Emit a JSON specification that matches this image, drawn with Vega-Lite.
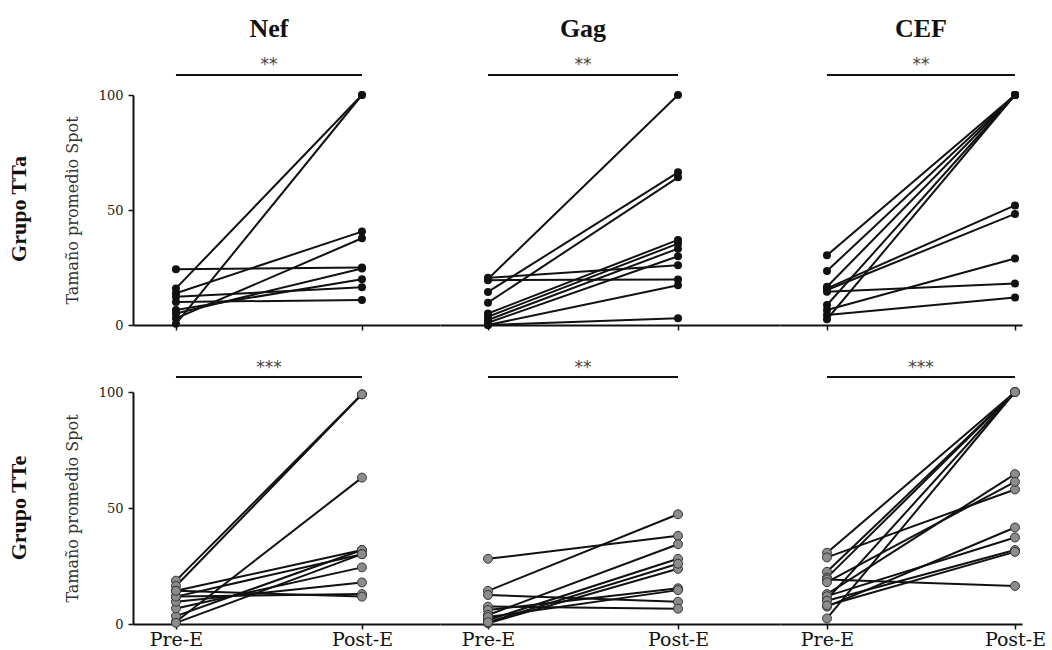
{
  "$schema": "https://vega.github.io/schema/vega-lite/v6.json",
  "background": "white",
  "padding": {"left": 8, "top": 15, "right": 0, "bottom": 0},
  "config": {
    "font": "DejaVu Serif",
    "view": {"stroke": null},
    "axis": {"domainColor": "#111", "domainWidth": 2, "tickColor": "#111", "tickWidth": 1.5, "tickSize": 5, "grid": false, "labelFont": "DejaVu Serif", "labelColor": "#222"},
    "concat": {"spacing": 0}
  },
  "datasets": {
    "significancia": [
      {"grupo": "TTa", "antigeno": "Nef", "tiempo": "Pre-E", "p": "**"}, {"grupo": "TTa", "antigeno": "Nef", "tiempo": "Post-E", "p": "**"},
      {"grupo": "TTa", "antigeno": "Gag", "tiempo": "Pre-E", "p": "**"}, {"grupo": "TTa", "antigeno": "Gag", "tiempo": "Post-E", "p": "**"},
      {"grupo": "TTa", "antigeno": "CEF", "tiempo": "Pre-E", "p": "**"}, {"grupo": "TTa", "antigeno": "CEF", "tiempo": "Post-E", "p": "**"},
      {"grupo": "TTe", "antigeno": "Nef", "tiempo": "Pre-E", "p": "***"}, {"grupo": "TTe", "antigeno": "Nef", "tiempo": "Post-E", "p": "***"},
      {"grupo": "TTe", "antigeno": "Gag", "tiempo": "Pre-E", "p": "**"}, {"grupo": "TTe", "antigeno": "Gag", "tiempo": "Post-E", "p": "**"},
      {"grupo": "TTe", "antigeno": "CEF", "tiempo": "Pre-E", "p": "***"}, {"grupo": "TTe", "antigeno": "CEF", "tiempo": "Post-E", "p": "***"}
    ],
    "spots": [
      {"grupo": "TTa", "antigeno": "Nef", "sujeto": "1", "tiempo": "Pre-E", "valor": 24.2}, {"grupo": "TTa", "antigeno": "Nef", "sujeto": "1", "tiempo": "Post-E", "valor": 25},
      {"grupo": "TTa", "antigeno": "Nef", "sujeto": "2", "tiempo": "Pre-E", "valor": 15.9}, {"grupo": "TTa", "antigeno": "Nef", "sujeto": "2", "tiempo": "Post-E", "valor": 100},
      {"grupo": "TTa", "antigeno": "Nef", "sujeto": "3", "tiempo": "Pre-E", "valor": 0.5}, {"grupo": "TTa", "antigeno": "Nef", "sujeto": "3", "tiempo": "Post-E", "valor": 100},
      {"grupo": "TTa", "antigeno": "Nef", "sujeto": "4", "tiempo": "Pre-E", "valor": 13.8}, {"grupo": "TTa", "antigeno": "Nef", "sujeto": "4", "tiempo": "Post-E", "valor": 40.6},
      {"grupo": "TTa", "antigeno": "Nef", "sujeto": "5", "tiempo": "Pre-E", "valor": 2.9}, {"grupo": "TTa", "antigeno": "Nef", "sujeto": "5", "tiempo": "Post-E", "valor": 37.7},
      {"grupo": "TTa", "antigeno": "Nef", "sujeto": "6", "tiempo": "Pre-E", "valor": 5}, {"grupo": "TTa", "antigeno": "Nef", "sujeto": "6", "tiempo": "Post-E", "valor": 24.6},
      {"grupo": "TTa", "antigeno": "Nef", "sujeto": "7", "tiempo": "Pre-E", "valor": 6.5}, {"grupo": "TTa", "antigeno": "Nef", "sujeto": "7", "tiempo": "Post-E", "valor": 19.9},
      {"grupo": "TTa", "antigeno": "Nef", "sujeto": "8", "tiempo": "Pre-E", "valor": 12.3}, {"grupo": "TTa", "antigeno": "Nef", "sujeto": "8", "tiempo": "Post-E", "valor": 16.4},
      {"grupo": "TTa", "antigeno": "Nef", "sujeto": "9", "tiempo": "Pre-E", "valor": 10}, {"grupo": "TTa", "antigeno": "Nef", "sujeto": "9", "tiempo": "Post-E", "valor": 10.9},

      {"grupo": "TTa", "antigeno": "Gag", "sujeto": "1", "tiempo": "Pre-E", "valor": 20}, {"grupo": "TTa", "antigeno": "Gag", "sujeto": "1", "tiempo": "Post-E", "valor": 100},
      {"grupo": "TTa", "antigeno": "Gag", "sujeto": "2", "tiempo": "Pre-E", "valor": 19.5}, {"grupo": "TTa", "antigeno": "Gag", "sujeto": "2", "tiempo": "Post-E", "valor": 19.8},
      {"grupo": "TTa", "antigeno": "Gag", "sujeto": "3", "tiempo": "Pre-E", "valor": 20.5}, {"grupo": "TTa", "antigeno": "Gag", "sujeto": "3", "tiempo": "Post-E", "valor": 26},
      {"grupo": "TTa", "antigeno": "Gag", "sujeto": "4", "tiempo": "Pre-E", "valor": 14.4}, {"grupo": "TTa", "antigeno": "Gag", "sujeto": "4", "tiempo": "Post-E", "valor": 66.4},
      {"grupo": "TTa", "antigeno": "Gag", "sujeto": "5", "tiempo": "Pre-E", "valor": 9.7}, {"grupo": "TTa", "antigeno": "Gag", "sujeto": "5", "tiempo": "Post-E", "valor": 64.2},
      {"grupo": "TTa", "antigeno": "Gag", "sujeto": "6", "tiempo": "Pre-E", "valor": 5}, {"grupo": "TTa", "antigeno": "Gag", "sujeto": "6", "tiempo": "Post-E", "valor": 37},
      {"grupo": "TTa", "antigeno": "Gag", "sujeto": "7", "tiempo": "Pre-E", "valor": 3.6}, {"grupo": "TTa", "antigeno": "Gag", "sujeto": "7", "tiempo": "Post-E", "valor": 35.4},
      {"grupo": "TTa", "antigeno": "Gag", "sujeto": "8", "tiempo": "Pre-E", "valor": 2.2}, {"grupo": "TTa", "antigeno": "Gag", "sujeto": "8", "tiempo": "Post-E", "valor": 33.2},
      {"grupo": "TTa", "antigeno": "Gag", "sujeto": "9", "tiempo": "Pre-E", "valor": 1}, {"grupo": "TTa", "antigeno": "Gag", "sujeto": "9", "tiempo": "Post-E", "valor": 29.9},
      {"grupo": "TTa", "antigeno": "Gag", "sujeto": "10", "tiempo": "Pre-E", "valor": 0}, {"grupo": "TTa", "antigeno": "Gag", "sujeto": "10", "tiempo": "Post-E", "valor": 17.3},
      {"grupo": "TTa", "antigeno": "Gag", "sujeto": "11", "tiempo": "Pre-E", "valor": 0}, {"grupo": "TTa", "antigeno": "Gag", "sujeto": "11", "tiempo": "Post-E", "valor": 2.9},

      {"grupo": "TTa", "antigeno": "CEF", "sujeto": "1", "tiempo": "Pre-E", "valor": 30.3}, {"grupo": "TTa", "antigeno": "CEF", "sujeto": "1", "tiempo": "Post-E", "valor": 100},
      {"grupo": "TTa", "antigeno": "CEF", "sujeto": "2", "tiempo": "Pre-E", "valor": 23.5}, {"grupo": "TTa", "antigeno": "CEF", "sujeto": "2", "tiempo": "Post-E", "valor": 100},
      {"grupo": "TTa", "antigeno": "CEF", "sujeto": "3", "tiempo": "Pre-E", "valor": 16.6}, {"grupo": "TTa", "antigeno": "CEF", "sujeto": "3", "tiempo": "Post-E", "valor": 100},
      {"grupo": "TTa", "antigeno": "CEF", "sujeto": "4", "tiempo": "Pre-E", "valor": 15.9}, {"grupo": "TTa", "antigeno": "CEF", "sujeto": "4", "tiempo": "Post-E", "valor": 52},
      {"grupo": "TTa", "antigeno": "CEF", "sujeto": "5", "tiempo": "Pre-E", "valor": 15.2}, {"grupo": "TTa", "antigeno": "CEF", "sujeto": "5", "tiempo": "Post-E", "valor": 48.3},
      {"grupo": "TTa", "antigeno": "CEF", "sujeto": "6", "tiempo": "Pre-E", "valor": 14.5}, {"grupo": "TTa", "antigeno": "CEF", "sujeto": "6", "tiempo": "Post-E", "valor": 18},
      {"grupo": "TTa", "antigeno": "CEF", "sujeto": "7", "tiempo": "Pre-E", "valor": 8.7}, {"grupo": "TTa", "antigeno": "CEF", "sujeto": "7", "tiempo": "Post-E", "valor": 100},
      {"grupo": "TTa", "antigeno": "CEF", "sujeto": "8", "tiempo": "Pre-E", "valor": 6.5}, {"grupo": "TTa", "antigeno": "CEF", "sujeto": "8", "tiempo": "Post-E", "valor": 28.9},
      {"grupo": "TTa", "antigeno": "CEF", "sujeto": "9", "tiempo": "Pre-E", "valor": 4.3}, {"grupo": "TTa", "antigeno": "CEF", "sujeto": "9", "tiempo": "Post-E", "valor": 12},
      {"grupo": "TTa", "antigeno": "CEF", "sujeto": "10", "tiempo": "Pre-E", "valor": 2.5}, {"grupo": "TTa", "antigeno": "CEF", "sujeto": "10", "tiempo": "Post-E", "valor": 100},

      {"grupo": "TTe", "antigeno": "Nef", "sujeto": "1", "tiempo": "Pre-E", "valor": 18.7}, {"grupo": "TTe", "antigeno": "Nef", "sujeto": "1", "tiempo": "Post-E", "valor": 99},
      {"grupo": "TTe", "antigeno": "Nef", "sujeto": "2", "tiempo": "Pre-E", "valor": 16.4}, {"grupo": "TTe", "antigeno": "Nef", "sujeto": "2", "tiempo": "Post-E", "valor": 99},
      {"grupo": "TTe", "antigeno": "Nef", "sujeto": "3", "tiempo": "Pre-E", "valor": 1}, {"grupo": "TTe", "antigeno": "Nef", "sujeto": "3", "tiempo": "Post-E", "valor": 63.1},
      {"grupo": "TTe", "antigeno": "Nef", "sujeto": "4", "tiempo": "Pre-E", "valor": 14.3}, {"grupo": "TTe", "antigeno": "Nef", "sujeto": "4", "tiempo": "Post-E", "valor": 31.9},
      {"grupo": "TTe", "antigeno": "Nef", "sujeto": "5", "tiempo": "Pre-E", "valor": 3.4}, {"grupo": "TTe", "antigeno": "Nef", "sujeto": "5", "tiempo": "Post-E", "valor": 31.9},
      {"grupo": "TTe", "antigeno": "Nef", "sujeto": "6", "tiempo": "Pre-E", "valor": 0.5}, {"grupo": "TTe", "antigeno": "Nef", "sujeto": "6", "tiempo": "Post-E", "valor": 30.1},
      {"grupo": "TTe", "antigeno": "Nef", "sujeto": "7", "tiempo": "Pre-E", "valor": 11.8}, {"grupo": "TTe", "antigeno": "Nef", "sujeto": "7", "tiempo": "Post-E", "valor": 30.1},
      {"grupo": "TTe", "antigeno": "Nef", "sujeto": "8", "tiempo": "Pre-E", "valor": 6.7}, {"grupo": "TTe", "antigeno": "Nef", "sujeto": "8", "tiempo": "Post-E", "valor": 24.4},
      {"grupo": "TTe", "antigeno": "Nef", "sujeto": "9", "tiempo": "Pre-E", "valor": 9.6}, {"grupo": "TTe", "antigeno": "Nef", "sujeto": "9", "tiempo": "Post-E", "valor": 17.9},
      {"grupo": "TTe", "antigeno": "Nef", "sujeto": "10", "tiempo": "Pre-E", "valor": 11.8}, {"grupo": "TTe", "antigeno": "Nef", "sujeto": "10", "tiempo": "Post-E", "valor": 12.9},
      {"grupo": "TTe", "antigeno": "Nef", "sujeto": "11", "tiempo": "Pre-E", "valor": 14.3}, {"grupo": "TTe", "antigeno": "Nef", "sujeto": "11", "tiempo": "Post-E", "valor": 11.8},

      {"grupo": "TTe", "antigeno": "Gag", "sujeto": "1", "tiempo": "Pre-E", "valor": 28.1}, {"grupo": "TTe", "antigeno": "Gag", "sujeto": "1", "tiempo": "Post-E", "valor": 38},
      {"grupo": "TTe", "antigeno": "Gag", "sujeto": "2", "tiempo": "Pre-E", "valor": 14.3}, {"grupo": "TTe", "antigeno": "Gag", "sujeto": "2", "tiempo": "Post-E", "valor": 47.3},
      {"grupo": "TTe", "antigeno": "Gag", "sujeto": "3", "tiempo": "Pre-E", "valor": 12.5}, {"grupo": "TTe", "antigeno": "Gag", "sujeto": "3", "tiempo": "Post-E", "valor": 9.6},
      {"grupo": "TTe", "antigeno": "Gag", "sujeto": "4", "tiempo": "Pre-E", "valor": 7.5}, {"grupo": "TTe", "antigeno": "Gag", "sujeto": "4", "tiempo": "Post-E", "valor": 6.6},
      {"grupo": "TTe", "antigeno": "Gag", "sujeto": "5", "tiempo": "Pre-E", "valor": 6}, {"grupo": "TTe", "antigeno": "Gag", "sujeto": "5", "tiempo": "Post-E", "valor": 15.4},
      {"grupo": "TTe", "antigeno": "Gag", "sujeto": "6", "tiempo": "Pre-E", "valor": 3.9}, {"grupo": "TTe", "antigeno": "Gag", "sujeto": "6", "tiempo": "Post-E", "valor": 34.4},
      {"grupo": "TTe", "antigeno": "Gag", "sujeto": "7", "tiempo": "Pre-E", "valor": 1.7}, {"grupo": "TTe", "antigeno": "Gag", "sujeto": "7", "tiempo": "Post-E", "valor": 28.1},
      {"grupo": "TTe", "antigeno": "Gag", "sujeto": "8", "tiempo": "Pre-E", "valor": 0.3}, {"grupo": "TTe", "antigeno": "Gag", "sujeto": "8", "tiempo": "Post-E", "valor": 23.8},
      {"grupo": "TTe", "antigeno": "Gag", "sujeto": "9", "tiempo": "Pre-E", "valor": 3}, {"grupo": "TTe", "antigeno": "Gag", "sujeto": "9", "tiempo": "Post-E", "valor": 14.6},
      {"grupo": "TTe", "antigeno": "Gag", "sujeto": "10", "tiempo": "Pre-E", "valor": 0.8}, {"grupo": "TTe", "antigeno": "Gag", "sujeto": "10", "tiempo": "Post-E", "valor": 26},

      {"grupo": "TTe", "antigeno": "CEF", "sujeto": "1", "tiempo": "Pre-E", "valor": 30.7}, {"grupo": "TTe", "antigeno": "CEF", "sujeto": "1", "tiempo": "Post-E", "valor": 100},
      {"grupo": "TTe", "antigeno": "CEF", "sujeto": "2", "tiempo": "Pre-E", "valor": 28.7}, {"grupo": "TTe", "antigeno": "CEF", "sujeto": "2", "tiempo": "Post-E", "valor": 58},
      {"grupo": "TTe", "antigeno": "CEF", "sujeto": "3", "tiempo": "Pre-E", "valor": 22.5}, {"grupo": "TTe", "antigeno": "CEF", "sujeto": "3", "tiempo": "Post-E", "valor": 100},
      {"grupo": "TTe", "antigeno": "CEF", "sujeto": "4", "tiempo": "Pre-E", "valor": 20}, {"grupo": "TTe", "antigeno": "CEF", "sujeto": "4", "tiempo": "Post-E", "valor": 100},
      {"grupo": "TTe", "antigeno": "CEF", "sujeto": "5", "tiempo": "Pre-E", "valor": 19.2}, {"grupo": "TTe", "antigeno": "CEF", "sujeto": "5", "tiempo": "Post-E", "valor": 16.4},
      {"grupo": "TTe", "antigeno": "CEF", "sujeto": "6", "tiempo": "Pre-E", "valor": 12.9}, {"grupo": "TTe", "antigeno": "CEF", "sujeto": "6", "tiempo": "Post-E", "valor": 64.6},
      {"grupo": "TTe", "antigeno": "CEF", "sujeto": "7", "tiempo": "Pre-E", "valor": 10.6}, {"grupo": "TTe", "antigeno": "CEF", "sujeto": "7", "tiempo": "Post-E", "valor": 100},
      {"grupo": "TTe", "antigeno": "CEF", "sujeto": "8", "tiempo": "Pre-E", "valor": 2.4}, {"grupo": "TTe", "antigeno": "CEF", "sujeto": "8", "tiempo": "Post-E", "valor": 100},
      {"grupo": "TTe", "antigeno": "CEF", "sujeto": "9", "tiempo": "Pre-E", "valor": 18}, {"grupo": "TTe", "antigeno": "CEF", "sujeto": "9", "tiempo": "Post-E", "valor": 61.3},
      {"grupo": "TTe", "antigeno": "CEF", "sujeto": "10", "tiempo": "Pre-E", "valor": 7.5}, {"grupo": "TTe", "antigeno": "CEF", "sujeto": "10", "tiempo": "Post-E", "valor": 41.6},
      {"grupo": "TTe", "antigeno": "CEF", "sujeto": "11", "tiempo": "Pre-E", "valor": 12}, {"grupo": "TTe", "antigeno": "CEF", "sujeto": "11", "tiempo": "Post-E", "valor": 37.3},
      {"grupo": "TTe", "antigeno": "CEF", "sujeto": "12", "tiempo": "Pre-E", "valor": 10}, {"grupo": "TTe", "antigeno": "CEF", "sujeto": "12", "tiempo": "Post-E", "valor": 31.9},
      {"grupo": "TTe", "antigeno": "CEF", "sujeto": "13", "tiempo": "Pre-E", "valor": 8}, {"grupo": "TTe", "antigeno": "CEF", "sujeto": "13", "tiempo": "Post-E", "valor": 31.1}
    ]
  },
  "vconcat": [
    {
      "title": {"text": "Grupo TTa", "orient": "left", "anchor": "middle", "font": "Liberation Serif", "fontSize": 22, "fontWeight": "bold", "color": "#111", "offset": 33, "dx": -35},
      "spacing": 0,
      "hconcat": [
        {
          "width": 307, "height": 252,
          "title": {"text": "Nef", "subtitle": "**", "dx": -17.5, "font": "Liberation Serif", "fontSize": 26, "fontWeight": "bold", "color": "#111", "subtitleFont": "DejaVu Sans", "subtitleFontSize": 17, "subtitleColor": "#444", "subtitlePadding": 15, "offset": -2},
          "encoding": {
            "x": {"field": "tiempo", "type": "ordinal", "scale": {"type": "point", "domain": ["Pre-E", "Post-E"], "padding": 0.3253, "align": 0.355}, "axis": {"title": null, "labels": false}}
          },
          "layer": [
            {"data": {"name": "spots"}, "transform": [{"filter": "datum.grupo === 'TTa' && datum.antigeno === 'Nef'"}], "mark": {"type": "line", "color": "#111", "strokeWidth": 2}, "encoding": {"detail": {"field": "sujeto"}, "y": {"field": "valor", "type": "quantitative", "scale": {"domain": [0, 100], "range": [252, 22]}, "axis": {"values": [0, 50, 100], "title": "Tamaño promedio Spot", "titleFont": "DejaVu Serif", "titleFontSize": 16, "titleFontWeight": "normal", "titleColor": "#333", "titlePadding": 18, "labelFontSize": 13, "labelPadding": 5}}}},
            {"data": {"name": "spots"}, "transform": [{"filter": "datum.grupo === 'TTa' && datum.antigeno === 'Nef'"}], "mark": {"type": "point", "filled": true, "size": 64, "color": "#111", "opacity": 1}, "encoding": {"y": {"field": "valor", "type": "quantitative"}}},
            {"data": {"name": "significancia"}, "transform": [{"filter": "datum.grupo === 'TTa' && datum.antigeno === 'Nef'"}], "mark": {"type": "line", "strokeWidth": 2, "color": "#111"}, "encoding": {"y": {"datum": 108.7}}}
          ]
        },
        {
          "width": 340, "height": 252,
          "title": {"text": "Gag", "subtitle": "**", "dx": -27, "font": "Liberation Serif", "fontSize": 26, "fontWeight": "bold", "color": "#111", "subtitleFont": "DejaVu Sans", "subtitleFontSize": 17, "subtitleColor": "#444", "subtitlePadding": 15, "offset": -2},
          "encoding": {
            "x": {"field": "tiempo", "type": "ordinal", "scale": {"type": "point", "domain": ["Pre-E", "Post-E"], "padding": 0.3947, "align": 0.32}, "axis": {"title": null, "labels": false}}
          },
          "layer": [
            {"data": {"name": "spots"}, "transform": [{"filter": "datum.grupo === 'TTa' && datum.antigeno === 'Gag'"}], "mark": {"type": "line", "color": "#111", "strokeWidth": 2}, "encoding": {"detail": {"field": "sujeto"}, "y": {"field": "valor", "type": "quantitative", "scale": {"domain": [0, 100], "range": [252, 22]}, "axis": null}}},
            {"data": {"name": "spots"}, "transform": [{"filter": "datum.grupo === 'TTa' && datum.antigeno === 'Gag'"}], "mark": {"type": "point", "filled": true, "size": 64, "color": "#111", "opacity": 1}, "encoding": {"y": {"field": "valor", "type": "quantitative"}}},
            {"data": {"name": "significancia"}, "transform": [{"filter": "datum.grupo === 'TTa' && datum.antigeno === 'Gag'"}], "mark": {"type": "line", "strokeWidth": 2, "color": "#111"}, "encoding": {"y": {"datum": 108.7}}}
          ]
        },
        {
          "width": 242, "height": 252,
          "title": {"text": "CEF", "subtitle": "**", "dx": 20, "font": "Liberation Serif", "fontSize": 26, "fontWeight": "bold", "color": "#111", "subtitleFont": "DejaVu Sans", "subtitleFontSize": 17, "subtitleColor": "#444", "subtitlePadding": 15, "offset": -2},
          "encoding": {
            "x": {"field": "tiempo", "type": "ordinal", "scale": {"type": "point", "domain": ["Pre-E", "Post-E"], "padding": 0.1436, "align": 0.87}, "axis": {"title": null, "labels": false}}
          },
          "layer": [
            {"data": {"name": "spots"}, "transform": [{"filter": "datum.grupo === 'TTa' && datum.antigeno === 'CEF'"}], "mark": {"type": "line", "color": "#111", "strokeWidth": 2}, "encoding": {"detail": {"field": "sujeto"}, "y": {"field": "valor", "type": "quantitative", "scale": {"domain": [0, 100], "range": [252, 22]}, "axis": null}}},
            {"data": {"name": "spots"}, "transform": [{"filter": "datum.grupo === 'TTa' && datum.antigeno === 'CEF'"}], "mark": {"type": "point", "filled": true, "size": 64, "color": "#111", "opacity": 1}, "encoding": {"y": {"field": "valor", "type": "quantitative"}}},
            {"data": {"name": "significancia"}, "transform": [{"filter": "datum.grupo === 'TTa' && datum.antigeno === 'CEF'"}], "mark": {"type": "line", "strokeWidth": 2, "color": "#111"}, "encoding": {"y": {"datum": 108.7}}}
          ]
        }
      ]
    },
    {
      "title": {"text": "Grupo TTe", "orient": "left", "anchor": "middle", "font": "Liberation Serif", "fontSize": 22, "fontWeight": "bold", "color": "#111", "offset": 33, "dx": -4},
      "spacing": 0,
      "hconcat": [
        {
          "width": 307, "height": 252,
          "title": {"text": "***", "dx": -17.5, "font": "DejaVu Sans", "fontSize": 17, "fontWeight": "normal", "color": "#444", "offset": -5},
          "encoding": {
            "x": {"field": "tiempo", "type": "ordinal", "scale": {"type": "point", "domain": ["Pre-E", "Post-E"], "padding": 0.3253, "align": 0.355}, "axis": {"title": null, "labelAngle": 0, "labelFontSize": 19, "labelPadding": 1, "labelColor": "#111"}}
          },
          "layer": [
            {"data": {"name": "spots"}, "transform": [{"filter": "datum.grupo === 'TTe' && datum.antigeno === 'Nef'"}], "mark": {"type": "line", "color": "#111", "strokeWidth": 2}, "encoding": {"detail": {"field": "sujeto"}, "y": {"field": "valor", "type": "quantitative", "scale": {"domain": [0, 100], "range": [252, 20]}, "axis": {"values": [0, 50, 100], "title": "Tamaño promedio Spot", "titleFont": "DejaVu Serif", "titleFontSize": 16, "titleFontWeight": "normal", "titleColor": "#333", "titlePadding": 18, "labelFontSize": 13, "labelPadding": 5}}}},
            {"data": {"name": "spots"}, "transform": [{"filter": "datum.grupo === 'TTe' && datum.antigeno === 'Nef'"}], "mark": {"type": "point", "filled": true, "size": 80, "color": "#8c8c8c", "stroke": "#333", "strokeWidth": 1, "opacity": 1}, "encoding": {"y": {"field": "valor", "type": "quantitative"}}},
            {"data": {"name": "significancia"}, "transform": [{"filter": "datum.grupo === 'TTe' && datum.antigeno === 'Nef'"}], "mark": {"type": "line", "strokeWidth": 2, "color": "#111"}, "encoding": {"y": {"datum": 106.5}}}
          ]
        },
        {
          "width": 340, "height": 252,
          "title": {"text": "**", "dx": -27, "font": "DejaVu Sans", "fontSize": 17, "fontWeight": "normal", "color": "#444", "offset": -5},
          "encoding": {
            "x": {"field": "tiempo", "type": "ordinal", "scale": {"type": "point", "domain": ["Pre-E", "Post-E"], "padding": 0.3947, "align": 0.32}, "axis": {"title": null, "labelAngle": 0, "labelFontSize": 19, "labelPadding": 1, "labelColor": "#111"}}
          },
          "layer": [
            {"data": {"name": "spots"}, "transform": [{"filter": "datum.grupo === 'TTe' && datum.antigeno === 'Gag'"}], "mark": {"type": "line", "color": "#111", "strokeWidth": 2}, "encoding": {"detail": {"field": "sujeto"}, "y": {"field": "valor", "type": "quantitative", "scale": {"domain": [0, 100], "range": [252, 20]}, "axis": null}}},
            {"data": {"name": "spots"}, "transform": [{"filter": "datum.grupo === 'TTe' && datum.antigeno === 'Gag'"}], "mark": {"type": "point", "filled": true, "size": 80, "color": "#8c8c8c", "stroke": "#333", "strokeWidth": 1, "opacity": 1}, "encoding": {"y": {"field": "valor", "type": "quantitative"}}},
            {"data": {"name": "significancia"}, "transform": [{"filter": "datum.grupo === 'TTe' && datum.antigeno === 'Gag'"}], "mark": {"type": "line", "strokeWidth": 2, "color": "#111"}, "encoding": {"y": {"datum": 106.5}}}
          ]
        },
        {
          "width": 242, "height": 252,
          "title": {"text": "***", "dx": 20, "font": "DejaVu Sans", "fontSize": 17, "fontWeight": "normal", "color": "#444", "offset": -5},
          "encoding": {
            "x": {"field": "tiempo", "type": "ordinal", "scale": {"type": "point", "domain": ["Pre-E", "Post-E"], "padding": 0.1436, "align": 0.87}, "axis": {"title": null, "labelAngle": 0, "labelFontSize": 19, "labelPadding": 1, "labelColor": "#111"}}
          },
          "layer": [
            {"data": {"name": "spots"}, "transform": [{"filter": "datum.grupo === 'TTe' && datum.antigeno === 'CEF'"}], "mark": {"type": "line", "color": "#111", "strokeWidth": 2}, "encoding": {"detail": {"field": "sujeto"}, "y": {"field": "valor", "type": "quantitative", "scale": {"domain": [0, 100], "range": [252, 20]}, "axis": null}}},
            {"data": {"name": "spots"}, "transform": [{"filter": "datum.grupo === 'TTe' && datum.antigeno === 'CEF'"}], "mark": {"type": "point", "filled": true, "size": 80, "color": "#8c8c8c", "stroke": "#333", "strokeWidth": 1, "opacity": 1}, "encoding": {"y": {"field": "valor", "type": "quantitative"}}},
            {"data": {"name": "significancia"}, "transform": [{"filter": "datum.grupo === 'TTe' && datum.antigeno === 'CEF'"}], "mark": {"type": "line", "strokeWidth": 2, "color": "#111"}, "encoding": {"y": {"datum": 106.5}}}
          ]
        }
      ]
    }
  ],
  "spacing": 27
}
